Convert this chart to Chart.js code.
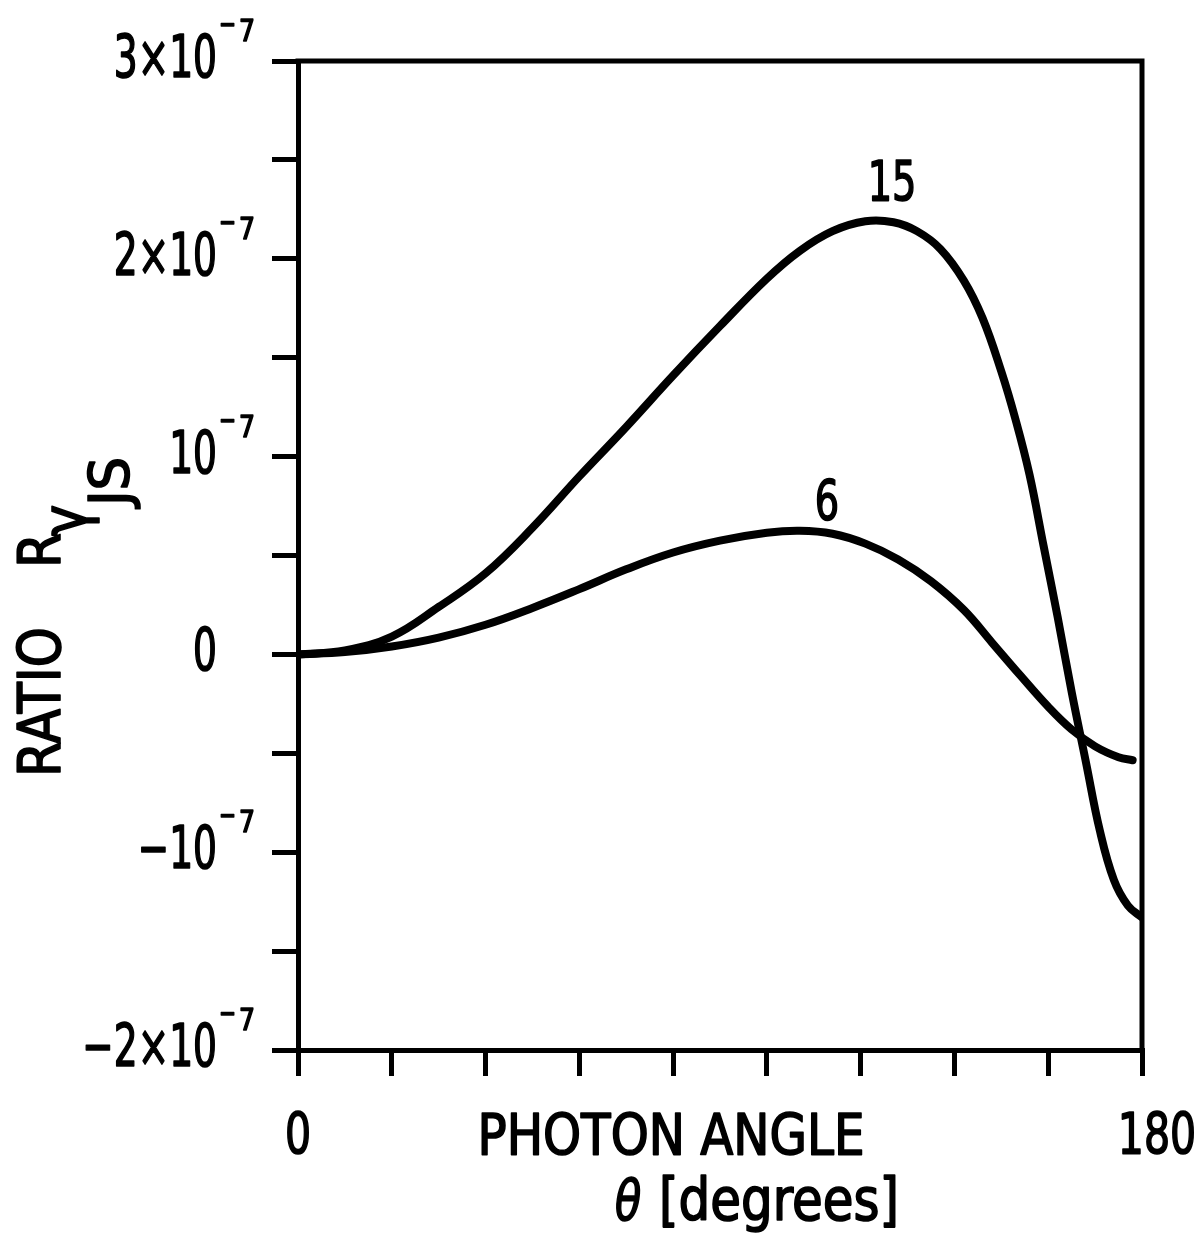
<!DOCTYPE html>
<html>
<head>
<meta charset="utf-8">
<script src="https://cdn.jsdelivr.net/npm/chart.js@4.4.1/dist/chart.umd.min.js"></script>
<style>
  html, body { margin: 0; padding: 0; background: #fff; }
  #wrap { width: 1201px; height: 1248px; }
</style>
</head>
<body>
<div id="wrap"><canvas id="ratioChart" width="1201" height="1248"></canvas></div>
<script>
// values in units of 1e-7
const theta15 = [0, 10, 20, 30, 40, 50, 60, 70, 80, 90, 100, 107, 114, 121, 127, 132, 137, 142, 146, 150, 153, 156, 159, 162, 165, 168, 171, 174, 177, 180];
const ratio15 = [0, 0.02, 0.09, 0.24, 0.41, 0.64, 0.90, 1.15, 1.41, 1.66, 1.90, 2.04, 2.14, 2.19, 2.185, 2.14, 2.05, 1.89, 1.70, 1.43, 1.19, 0.91, 0.55, 0.19, -0.19, -0.54, -0.89, -1.14, -1.27, -1.33];

const theta6 = [0, 10, 20, 30, 40, 50, 60, 70, 80, 90, 100, 107, 114, 121, 128, 135, 142, 148, 154, 160, 165, 170, 175, 178];
const ratio6 = [0, 0.012, 0.04, 0.085, 0.15, 0.235, 0.33, 0.43, 0.515, 0.575, 0.615, 0.625, 0.61, 0.56, 0.48, 0.37, 0.225, 0.06, -0.105, -0.265, -0.38, -0.465, -0.52, -0.535];

const curveNames = ['15', '6'];
const curveLabelAt = [[126.7, 2.37], [112.8, 0.76]];

const yTickValues = [3, 2, 1, 0, -1, -2];
const yTickMantissas = ['3×10', '2×10', '10', '0', '−10', '−2×10'];
const yTickExponents = ['−7', '−7', '−7', '', '−7', '−7'];

const xTickValues = [0, 180];
const xTickTexts = ['0', '180'];

const FONT = '"Liberation Sans Narrow", "DejaVu Sans Condensed", "DejaVu Sans", sans-serif';
const font = (size, style) => `${style || ''} ${size}px ${FONT}`;

function toPoints(xs, ys) {
    return xs.map((t, i) => ({ x: t, y: ys[i] }));
}

// text with a horizontal squeeze and a slight stroke to thicken the letters
function drawText(ctx, text, x, y, opts) {
    const o = Object.assign({ size: 56, sx: 0.74, align: 'left', base: 'middle', style: '', width: null }, opts);
    ctx.save();
    ctx.font = font(o.size, o.style);
    ctx.textAlign = o.align;
    ctx.textBaseline = o.base;
    let sx = o.sx;
    if (o.width) sx = o.width / ctx.measureText(text).width;
    ctx.translate(x, y);
    ctx.scale(sx, 1);
    ctx.lineWidth = 1.6;
    ctx.lineJoin = 'round';
    ctx.fillText(text, 0, 0);
    ctx.strokeText(text, 0, 0);
    ctx.restore();
}

const annotations = {
    id: 'annotations',
    afterDraw(chart) {
        const { ctx, chartArea: area, scales: { x, y } } = chart;
        ctx.save();
        ctx.strokeStyle = '#000';
        ctx.fillStyle = '#000';
        ctx.lineWidth = 5;
        ctx.lineCap = 'square';
        ctx.beginPath();
        ctx.moveTo(area.left, area.top);
        ctx.lineTo(area.right, area.top);
        ctx.lineTo(area.right, area.bottom);
        ctx.stroke();

        // y tick labels with exponents
        yTickValues.forEach((v, i) => {
            const py = y.getPixelForValue(v);
            drawText(ctx, yTickMantissas[i], 217, py + 1, { size: 58, align: 'right', sx: 0.72 });
            const exp = yTickExponents[i];
            if (exp) {
                drawText(ctx, exp[0], 219, py - 27, { size: 30, sx: 0.75, base: 'alphabetic' });
                drawText(ctx, exp.slice(1), 239, py - 20, { size: 31, sx: 0.9, base: 'alphabetic' });
            }
        });

        // x tick labels
        xTickValues.forEach((v, i) => {
            const px = x.getPixelForValue(v) + (v === 180 ? 15 : 0);
            drawText(ctx, xTickTexts[i], px, 1139, { size: 57, align: 'center', sx: 0.8 });
        });

        // x axis title
        drawText(ctx, 'PHOTON ANGLE', 671, 1140, { size: 57, align: 'center', width: 387 });
        drawText(ctx, 'θ', 628, 1205, { size: 56, align: 'center', style: 'italic', sx: 0.85 });
        drawText(ctx, '[degrees]', 779, 1205, { size: 58, align: 'center', width: 240 });

        // y axis title, rotated
        ctx.save();
        ctx.translate(60, 0);
        ctx.rotate(-Math.PI / 2);
        drawText(ctx, 'RATIO', -777, 0, { size: 58, base: 'alphabetic', width: 150 });
        drawText(ctx, 'R', -568, 0, { size: 58, base: 'alphabetic', width: 35 });
        drawText(ctx, 'γ', -536, 26, { size: 62, base: 'alphabetic', sx: 0.95 });
        drawText(ctx, 'JS', -506, 68, { size: 56, base: 'alphabetic', sx: 1.05 });
        ctx.restore();

        // curve labels
        curveNames.forEach((name, i) => {
            const [tx, ty] = curveLabelAt[i];
            drawText(ctx, name, x.getPixelForValue(tx), y.getPixelForValue(ty), { size: 56, align: 'center', sx: 0.76 });
        });
        ctx.restore();
    }
};

const axisGrid = { drawOnChartArea: false, drawTicks: true, tickLength: 26, tickWidth: 5, tickColor: '#000', color: '#000', lineWidth: 5 };
const axisBorder = { display: true, color: '#000', width: 5 };

new Chart(document.getElementById('ratioChart'), {
    type: 'line',
    data: {
        datasets: [
            { label: curveNames[0], data: toPoints(theta15, ratio15), borderColor: '#000', borderWidth: 8, pointRadius: 0, tension: 0.4, borderCapStyle: 'round', fill: false },
            { label: curveNames[1], data: toPoints(theta6, ratio6), borderColor: '#000', borderWidth: 8, pointRadius: 0, tension: 0.4, borderCapStyle: 'round', fill: false }
        ]
    },
    options: {
        responsive: false,
        animation: false,
        layout: { padding: { left: 272, top: 61, right: 59, bottom: 172 } },
        plugins: { legend: { display: false }, tooltip: { enabled: false } },
        scales: {
            x: { type: 'linear', min: 0, max: 180, ticks: { display: false, stepSize: 20 }, grid: axisGrid, border: axisBorder },
            y: { type: 'linear', min: -2, max: 3, ticks: { display: false, stepSize: 0.5 }, grid: axisGrid, border: axisBorder }
        }
    },
    plugins: [annotations]
});
</script>
</body>
</html>
